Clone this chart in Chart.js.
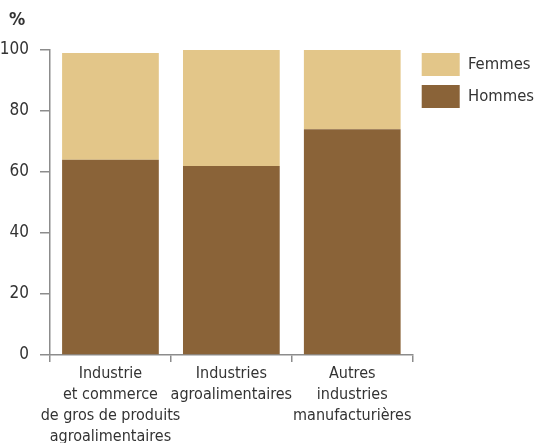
<!DOCTYPE html>
<html>
<head>
<meta charset="utf-8">
<script src="https://cdn.jsdelivr.net/npm/chart.js@4"></script>
<style>
  body { margin: 0; background: #fff; }
  #wrap { width: 535px; height: 443px; }
</style>
</head>
<body>
<div id="wrap"><canvas id="myChart" width="535" height="443"></canvas></div>
<script>
const categories = [
  ['Industrie', 'et commerce', 'de gros de produits', 'agroalimentaires'],
  ['Industries', 'agroalimentaires'],
  ['Autres', 'industries', 'manufacturières']
];
const hommes = [64, 62, 74];
const femmes = [35, 38, 26];
const yTicks = [0, 20, 40, 60, 80, 100];

const FONT = "'DejaVu Sans Condensed', 'Liberation Sans', sans-serif";
const axisColor = '#8c8c8c';
const textColor = '#333333';

// "%" unit label above the y axis, legend nudged up next to the plot
const extras = {
  id: 'extras',
  afterLayout(chart) {
    const lg = chart.legend;
    const area = chart.chartArea;
    const h = lg.bottom - lg.top;
    lg.top = area.top - 6;
    lg.bottom = lg.top + h;
  },
  afterDraw(chart) {
    const c = chart.ctx;
    const y = chart.scales.y;
    c.save();
    c.font = 'bold 18px ' + FONT;
    c.fillStyle = textColor;
    c.textAlign = 'center';
    c.textBaseline = 'middle';
    c.fillText('%', 17, y.top - 30);
    c.restore();
  }
};

const ctx = document.getElementById('myChart');

new Chart(ctx, {
  type: 'bar',
  data: {
    labels: categories,
    datasets: [
      {
        label: 'Hommes',
        data: hommes,
        backgroundColor: '#8a6338'
      },
      {
        label: 'Femmes',
        data: femmes,
        backgroundColor: '#e3c689'
      }
    ]
  },
  options: {
    responsive: false,
    animation: false,
    barPercentage: 0.8,
    categoryPercentage: 1,
    layout: {
      padding: { top: 50, left: 0, right: -9, bottom: 0 }
    },
    plugins: {
      legend: {
        position: 'right',
        align: 'start',
        reverse: true,
        labels: {
          boxWidth: 38,
          boxHeight: 23,
          padding: 9,
          color: textColor,
          font: { family: FONT, size: 16.5 }
        }
      },
      tooltip: { enabled: false }
    },
    scales: {
      x: {
        stacked: true,
        afterFit(scale) { scale.height = 88; },
        grid: {
          display: true,
          drawOnChartArea: false,
          offset: true,
          tickLength: 7,
          color: axisColor,
          lineWidth: 1.5
        },
        border: { color: axisColor, width: 1.5 },
        ticks: {
          color: textColor,
          padding: 1,
          maxRotation: 0,
          autoSkip: false,
          font: { family: FONT, size: 16, lineHeight: '21px' }
        }
      },
      y: {
        stacked: true,
        min: 0,
        max: 100,
        afterFit(scale) { scale.width = 50; },
        afterBuildTicks(scale) {
          scale.ticks = yTicks.map(v => ({ value: v }));
        },
        grid: {
          display: true,
          drawOnChartArea: false,
          tickLength: 10,
          color: axisColor,
          lineWidth: 1.5
        },
        border: { color: axisColor, width: 1.5 },
        ticks: {
          color: textColor,
          padding: 11,
          font: { family: FONT, size: 17 }
        }
      }
    }
  },
  plugins: [extras]
});
</script>
</body>
</html>
